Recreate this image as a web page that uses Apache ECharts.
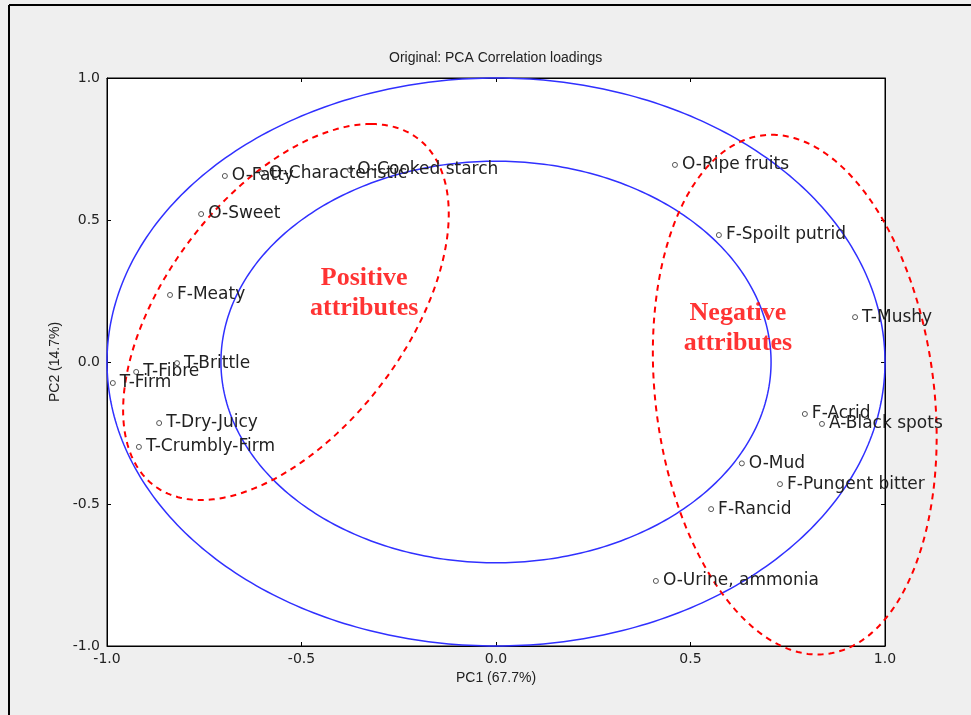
<!DOCTYPE html>
<html>
<head>
<meta charset="utf-8">
<script src="https://cdn.jsdelivr.net/npm/echarts@6/dist/echarts.min.js"></script>
<style>
html,body{margin:0;padding:0;background:#efefef;}
#c{width:971px;height:715px;}
</style>
</head>
<body>
<div id="c"></div>
<script>
// ---- data ----
const attrNames = ['O-Fatty','O-Characteristic','O-Cooked starch','O-Sweet','F-Meaty','T-Brittle','T-Fibre','T-Firm','T-Dry-Juicy','T-Crumbly-Firm',
  'O-Ripe fruits','F-Spoilt putrid','T-Mushy','F-Acrid','A-Black spots','O-Mud','F-Pungent bitter','F-Rancid','O-Urine, ammonia'];
const pc1 = [-0.697,-0.602,-0.375,-0.758,-0.838,-0.820,-0.925,-0.985,-0.866,-0.918,
  0.460,0.573,0.923,0.794,0.838,0.632,0.730,0.553,0.411];
const pc2 = [0.655,0.665,0.676,0.521,0.236,-0.004,-0.035,-0.074,-0.215,-0.299,
  0.694,0.447,0.158,-0.183,-0.218,-0.357,-0.430,-0.518,-0.771];
const tickValues = [-1.0,-0.5,0.0,0.5,1.0];
const circleRadii = [1.0, Math.SQRT1_2];
// group ellipses: center, conjugate semi-diameters U and V (data units)
const groupNames = ['Positive\nattributes','Negative\nattributes'];
const groupCenter = [[-0.540,0.176],[0.768,-0.115]];
const groupU = [[0.2185,0.662],[-0.059,0.915]];
const groupV = [[0.357,0],[0.360,0]];
const groupLabelPos = [[-0.339,0.243],[0.622,0.120]];

function ellipse(c,u,v,n){
  const pts=[];
  for(let i=0;i<=n;i++){
    const t=2*Math.PI*i/n;
    pts.push([c[0]+u[0]*Math.cos(t)+v[0]*Math.sin(t), c[1]+u[1]*Math.cos(t)+v[1]*Math.sin(t)]);
  }
  return pts;
}

const shapes = [];
circleRadii.forEach(r=>shapes.push({pts:ellipse([0,0],[r,0],[0,r],360),
  style:{stroke:'#3030ff',lineWidth:1.5,fill:null}}));
groupCenter.forEach((c,i)=>shapes.push({pts:ellipse(c,groupU[i],groupV[i],360),
  style:{stroke:'#ff0000',lineWidth:2,lineDash:[6,5],fill:null}}));

const series=[];
series.push({type:'custom',data:shapes.map((s,i)=>i),clip:false,silent:true,z:2,animation:false,
  renderItem:function(params,api){
    const s=shapes[params.dataIndex];
    return {type:'polyline',shape:{points:s.pts.map(p=>api.coord(p))},style:s.style};
  }});
series.push({type:'scatter',data:attrNames.map((n,i)=>({name:n,value:[pc1[i],pc2[i]]})),
  symbol:'circle',symbolSize:5,
  itemStyle:{color:'#ffffff',borderColor:'#555',borderWidth:1,opacity:1},
  label:{show:true,position:'right',distance:4,formatter:p=>p.name,color:'#222',
    fontFamily:'DejaVu Sans',fontSize:17},
  z:4,animation:false,clip:false});
series.push({type:'scatter',data:groupNames.map((n,i)=>({name:n,value:groupLabelPos[i]})),
  symbolSize:0,silent:true,
  label:{show:true,position:'inside',formatter:p=>p.name,color:'#ff0000',
    fontFamily:'Liberation Serif',fontWeight:'bold',fontSize:26,lineHeight:30,align:'center',verticalAlign:'middle'},
  z:5,animation:false,clip:false});

const tickFmt = v => tickValues.indexOf(v)>=0 ? v.toFixed(1) : '';
const axisCommon = {type:'value',min:-1,max:1,interval:0.5,splitLine:{show:false},
  axisLine:{show:true,onZero:false,lineStyle:{color:'#000',width:1}},
  axisTick:{show:true,inside:true,length:4,lineStyle:{color:'#000'}}};

const option = {
  backgroundColor:'#efefef',
  animation:false,
  title:{text:'Original: PCA Correlation loadings',left:384,top:46,
    textStyle:{fontFamily:'Liberation Sans',fontSize:14,fontWeight:'normal',color:'#222'}},
  grid:{left:107,right:86,top:78,bottom:69,show:true,backgroundColor:'#ffffff',borderColor:'#000',borderWidth:1},
  xAxis:[
    Object.assign({},axisCommon,{position:'bottom',name:'PC1 (67.7%)',nameLocation:'middle',nameGap:24,
      nameTextStyle:{fontFamily:'Liberation Sans',fontSize:14,color:'#222'},
      axisLabel:{formatter:tickFmt,margin:6,fontFamily:'DejaVu Sans',fontSize:14,color:'#222'}}),
    Object.assign({},axisCommon,{position:'top',axisLabel:{show:false}})
  ],
  yAxis:[
    Object.assign({},axisCommon,{position:'left',name:'PC2 (14.7%)',nameLocation:'middle',nameGap:40,nameRotate:90,
      nameTextStyle:{fontFamily:'Liberation Sans',fontSize:14,color:'#222'},
      axisLabel:{formatter:tickFmt,margin:7,fontFamily:'DejaVu Sans',fontSize:14,color:'#222'}}),
    Object.assign({},axisCommon,{position:'right',axisLabel:{show:false}})
  ],
  graphic:[
    {type:'line',shape:{x1:9,y1:5,x2:971,y2:5},style:{stroke:'#000',lineWidth:2},silent:true},
    {type:'line',shape:{x1:9,y1:5,x2:9,y2:715},style:{stroke:'#000',lineWidth:2},silent:true}
  ],
  series:series
};
const chart = echarts.init(document.getElementById('c'),null,{renderer:'canvas'});
chart.setOption(option);
</script>
</body>
</html>
